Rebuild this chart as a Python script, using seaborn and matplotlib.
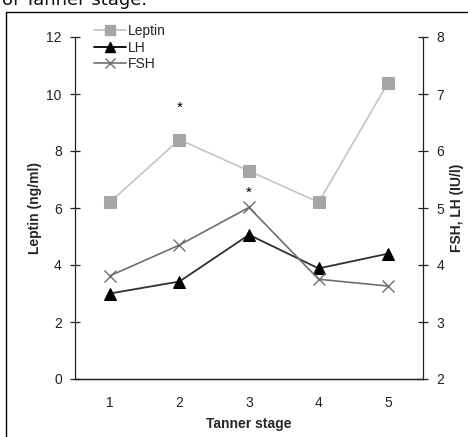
import matplotlib
matplotlib.use("Agg")
import matplotlib.pyplot as plt
import seaborn as sns
import numpy as np
from matplotlib.patches import Rectangle
from matplotlib.lines import Line2D

stages = [1, 2, 3, 4, 5]
leptin = [6.2, 8.4, 7.3, 6.2, 10.4]
lh = [3.50, 3.71, 4.53, 3.94, 4.20]
fsh = [3.81, 4.35, 5.01, 3.75, 3.63]
star_stages = [2, 3]
star_levels = [9.5, 6.55]
left_ticks = [0, 2, 4, 6, 8, 10, 12]
right_ticks = [2, 3, 4, 5, 6, 7, 8]

sns.set_style("white")
plt.rcParams['font.family'] = ['Liberation Sans', 'DejaVu Sans']

fig = plt.figure(figsize=(4.68, 4.37), dpi=100)
ax = fig.add_axes([75/468, 1-379/437, 348/468, 342/437])
ax2 = ax.twinx()

sns.lineplot(x=stages, y=leptin, ax=ax, color='#c4c4c4', lw=1.2,
             marker='s', markersize=8, markerfacecolor='#a6a6a6',
             markeredgecolor='#a6a6a6')
sns.lineplot(x=stages, y=lh, ax=ax2, color='#303030', lw=1.3,
             marker='^', markersize=8, markerfacecolor='black',
             markeredgecolor='black')
sns.lineplot(x=stages, y=fsh, ax=ax2, color='#6e6e6e', lw=1.2,
             marker='x', markersize=8, markeredgecolor='#6e6e6e',
             markeredgewidth=1.0)

for s, lv in zip(star_stages, star_levels):
    ax.text(s, lv, '*', ha='center', va='center', fontsize=11, color='black')

ax.set_xlim(0.5, 5.5)
ax.set_ylim(0, 12)
ax2.set_ylim(2, 8)
ax.set_yticks(left_ticks)
ax2.set_yticks(right_ticks)
ax.set_xticks(stages)
ax.set_xticks(np.arange(0.5, 6, 1.0), minor=True)
ax.tick_params(axis='x', which='major', length=0, labelsize=10, pad=12, colors='#222222')
ax.tick_params(axis='x', which='minor', length=6, direction='inout', width=0.9, color='#222222')
ax.tick_params(axis='y', length=7, direction='inout', width=0.9, labelsize=10, pad=6, colors='#222222')
ax2.tick_params(axis='y', length=7, direction='inout', width=0.9, labelsize=10, pad=6, colors='#222222')

for a in (ax, ax2):
    a.spines['top'].set_visible(False)
    for sp in ['left', 'right', 'bottom']:
        a.spines[sp].set_color('#222222')
        a.spines[sp].set_linewidth(0.9)
ax.spines['right'].set_visible(False)
ax2.spines['left'].set_visible(False)

ax.set_xlabel('Tanner stage', fontsize=10, fontweight='bold', labelpad=5)
ax.set_ylabel('Leptin (ng/ml)', fontsize=10, fontweight='bold', labelpad=3)
ax2.set_ylabel('FSH, LH (IU/l)', fontsize=10, fontweight='bold', labelpad=4, rotation=90)

handles = [
    Line2D([], [], color='#c4c4c4', lw=1.2, marker='s', markersize=7,
           markerfacecolor='#a6a6a6', markeredgecolor='#a6a6a6'),
    Line2D([], [], color='black', lw=1.3, marker='^', markersize=7,
           markerfacecolor='black', markeredgecolor='black'),
    Line2D([], [], color='#6e6e6e', lw=1.2, marker='x', markersize=7,
           markeredgecolor='#6e6e6e'),
]
ax2.legend(handles, ['Leptin', 'LH', 'FSH'], loc='upper left',
           bbox_to_anchor=(0.04, 1.055), frameon=False, fontsize=10,
           handlelength=2.3, handletextpad=0.1, labelspacing=0.2,
           borderaxespad=0)

fig.patches.append(Rectangle((5.5/468, -0.1), 1.2, (437-11.5)/437 + 0.1,
                             transform=fig.transFigure, fill=False,
                             edgecolor='black', lw=1.0, zorder=0))
fig.text(2/468, 1-5/437, 'of Tanner stage.', fontsize=13, va='baseline',
         ha='left', family=['DejaVu Sans'], color='#111111')

fig.savefig('out.png', dpi=100)
